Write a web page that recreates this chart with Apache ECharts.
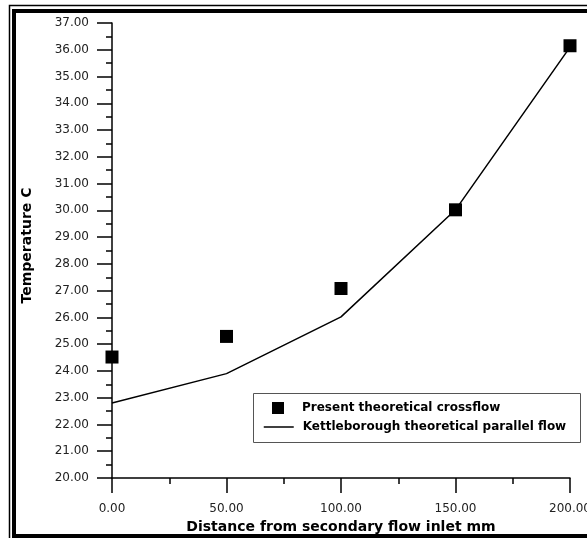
<!DOCTYPE html>
<html>
<head>
    <meta charset="utf-8">
    <title>Temperature vs distance</title>
    <script src="https://cdn.jsdelivr.net/npm/echarts@6/dist/echarts.min.js"></script>
    <style>
        html, body { margin: 0; padding: 0; background: #fff; }
        #main { width: 587px; height: 538px; }
    </style>
</head>
<body>
<div id="main"></div>
<script type="text/javascript">
    // distances along the exchanger, mm
    var distances = [0, 50, 100, 150, 200];
    // present theoretical crossflow (squares)
    var crossflow = [24.52, 25.29, 27.08, 30.02, 36.15];
    // Kettleborough theoretical parallel flow (line)
    var parallelFlow = [22.80, 23.90, 26.02, 30.02, 36.10];

    var crossName = 'Present theoretical crossflow';
    var parallelName = 'Kettleborough theoretical parallel flow';

    function pairs(xs, ys) {
        return xs.map(function (x, i) { return [x, ys[i]]; });
    }

    var font = 'DejaVu Sans, sans-serif';
    var tickStyle = { color: '#000', width: 1.5 };
    var myChart = echarts.init(document.getElementById('main'));

    myChart.setOption({
        animation: false,
        backgroundColor: '#fff',
        grid: { left: 112, top: 23, right: 17, bottom: 60, outerBoundsMode: 'none' },
        //外框 + 图例框
        graphic: [
            { type: 'rect', shape: { x: 9.5, y: 5.5, width: 600, height: 600 },
              style: { fill: null, stroke: '#000', lineWidth: 1.5 }, silent: true },
            { type: 'rect', shape: { x: 14, y: 11, width: 600, height: 525 },
              style: { fill: null, stroke: '#000', lineWidth: 4 }, silent: true },
            { type: 'rect', shape: { x: 253.5, y: 393.5, width: 327, height: 49 },
              style: { fill: '#fff', stroke: '#555', lineWidth: 1 }, silent: true, z: 3 }
        ],
        legend: [
            {
                left: 272, top: 402, padding: 0,
                itemWidth: 12, itemHeight: 12,
                icon: 'rect',
                textStyle: { fontFamily: font, fontSize: 12, fontWeight: 'bold', color: '#000',
                             padding: [0, 0, 0, 13] },
                data: [crossName]
            },
            {
                left: 263, top: 421, padding: 0,
                itemWidth: 30, itemHeight: 12,
                itemStyle: { color: 'rgba(0,0,0,0)', borderWidth: 0 },
                lineStyle: { color: '#000', width: 1.5 },
                textStyle: { fontFamily: font, fontSize: 12, fontWeight: 'bold', color: '#000',
                             padding: [0, 0, 0, 4] },
                data: [parallelName]
            }
        ],
        xAxis: {
            type: 'value',
            min: 0, max: 200, interval: 50,
            name: 'Distance from secondary flow inlet mm',
            nameLocation: 'middle',
            nameGap: 40,
            nameTextStyle: { fontFamily: font, fontSize: 14, fontWeight: 'bold', color: '#000' },
            axisLine: { lineStyle: tickStyle },
            axisTick: { length: 15, lineStyle: tickStyle },
            minorTick: { show: true, splitNumber: 2, length: 6, lineStyle: tickStyle },
            splitLine: { show: false },
            axisLabel: {
                margin: 25, fontFamily: font, fontSize: 12, color: '#222',
                formatter: function (v) { return v.toFixed(2); }
            }
        },
        yAxis: {
            type: 'value',
            min: 20, max: 37, interval: 1,
            name: 'Temperature C',
            nameLocation: 'middle',
            nameGap: 78,
            nameTextStyle: { fontFamily: font, fontSize: 14, fontWeight: 'bold', color: '#000',
                             padding: [0, 0, 0, 10] },
            axisLine: { show: true, lineStyle: tickStyle },
            axisTick: { show: true, length: 15, lineStyle: tickStyle },
            minorTick: { show: true, splitNumber: 2, length: 6, lineStyle: tickStyle },
            splitLine: { show: false },
            axisLabel: {
                margin: 23, fontFamily: font, fontSize: 12, color: '#222',
                formatter: function (v) { return v.toFixed(2); }
            }
        },
        series: [
            {
                name: parallelName,
                type: 'line',
                data: pairs(distances, parallelFlow),
                symbol: 'none',
                itemStyle: { color: '#000' },
                lineStyle: { color: '#000', width: 1.5 },
                z: 2
            },
            {
                name: crossName,
                type: 'scatter',
                data: pairs(distances, crossflow),
                symbol: 'rect',
                symbolSize: 13,
                itemStyle: { color: '#000', opacity: 1 },
                z: 3
            }
        ]
    });
</script>
</body>
</html>
